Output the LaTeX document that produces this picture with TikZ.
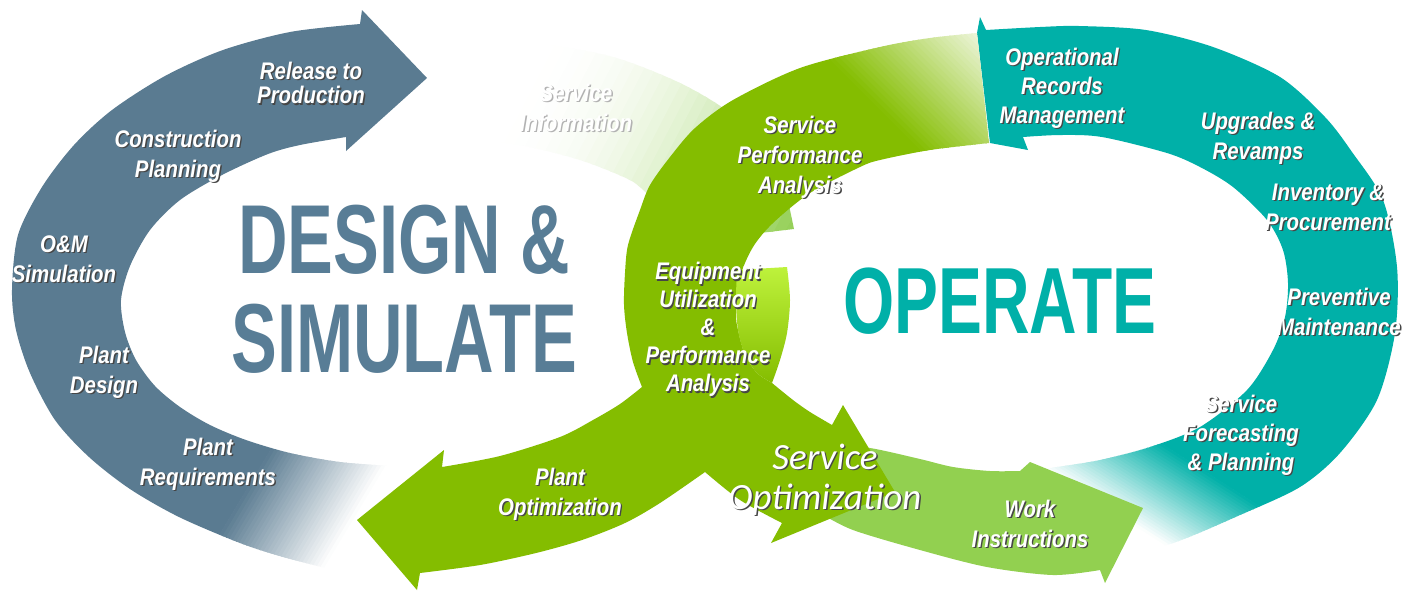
\documentclass[tikz,border=0pt]{standalone}
\usepackage{fontspec}
\newfontfamily\labfont{Liberation Sans}[FakeStretch=0.85]
\newfontfamily\titlefont{Liberation Sans}[FakeStretch=0.7]
\newfontfamily\sofont{Carlito}
\definecolor{slate}{RGB}{90,123,145}
\definecolor{slatetxt}{RGB}{88,125,150}
\definecolor{dkgreen}{RGB}{132,189,0}
\definecolor{ltgreen}{RGB}{146,208,80}
\definecolor{tealc}{RGB}{0,176,168}
\definecolor{limec}{RGB}{190,242,60}
\definecolor{paleg}{RGB}{150,208,90}
\definecolor{shad}{RGB}{70,70,70}
% white text with a drop shadow
\newcommand\shtext[2][shad]{\makebox[0pt][l]{\kern0.7pt\raisebox{-0.7pt}{\color{#1}\begin{tabular}{@{}c@{}}#2\end{tabular}}}{\color{white}\begin{tabular}{@{}c@{}}#2\end{tabular}}}
% solid part + banded fade: #1 colour, #2 #3 start point, #4 angle, #5 length, #6 power, #7 end percent
\newcommand\fadestrips[7]{%
  \begin{scope}[shift={(#2,#3)},rotate=#4]
    \fill[#1] (-1600,-1600) rectangle (0.5,1600);
    \foreach \i in {0,...,29}{%
      \pgfmathsetmacro\pc{#7+(100-#7)*(1-(\i+0.5)/30)^#6}%
      \fill[#1!\pc!white] ({\i*#5/30},-1600) rectangle ({(\i+1.3)*#5/30},1600);
    }
    \fill[#1!#7!white] ({#5},-1600) rectangle ({#5+1600},1600);
  \end{scope}}
\newcommand\bluepath{(330,569) -- plot[smooth] coordinates {(330,569) (283,557) (240,543) (179,517) (130,489) (89,457) (55,420) (30,373) (16,330) (12,290) (18,235) (42,187) (74,145) (112,110) (165,76) (223,50) (290,32) (360,24)} -- (362,10) -- (427,78) -- (346,151) -- plot[smooth] coordinates {(346,137) (300,145) (268,154) (222,175) (180,200) (150,230) (130,266) (121,300) (125,332) (136,360) (155,386) (180,407) (210,425) (246,440) (290,453) (340,462) (392,466)} -- cycle}
\newcommand\tealpath{(990,143) -- (977,33) -- (980,17) -- plot[smooth] coordinates {(986,30) (1040,27) (1079,26) (1146,30) (1213,47) (1280,77) (1325,117) (1352,152) (1383,200) (1397,267) (1395,333) (1377,400) (1340,453) (1300,487) (1240,515) (1173,543) (1110,558) (1060,564)} -- plot[smooth] coordinates {(1030,471) (1057,467) (1100,460) (1150,447) (1200,427) (1247,390) (1273,350) (1285,317) (1288,283) (1283,250) (1267,220) (1233,187) (1200,167) (1167,153) (1102,137) (1060,135) (1023,137)} -- (1028,150) -- cycle}
\newcommand\greenpath{(989,143) -- (977,33) -- plot[smooth] coordinates {(977,33) (930,38) (880,47) (800,68) (733,100) (695,128) (670,157) (650,185) (640,210) (628,245) (625,273) (624,305) (627,333) (633,362) (642,387)} -- plot[smooth] coordinates {(642,387) (620,404) (593,420) (560,437) (500,456) (442,467)} -- (444,450) -- (357,520) -- (417,590) -- plot[smooth] coordinates {(420,573) (480,565) (536,553) (582,540) (625,523) (660,503) (705,472)} -- plot[smooth] coordinates {(705,472) (740,500) (782,523)} -- (771,543) -- (895,492) -- (843,405) -- plot[smooth] coordinates {(832,425) (810,412) (793,400) (772,383)} -- plot[smooth] coordinates {(772,383) (757,373) (745,355) (738,330) (736,313) (740,277) (753,247) (773,223) (810,193) (860,167) (880,160) (930,150) (989,143)} -- cycle}
\newcommand\palepath{plot[smooth] coordinates {(470,40) (540,44) (613,57) (680,83) (730,113) (765,150) (783,180) (790,210)} -- (794,229) -- plot[smooth] coordinates {(760,233) (700,215) (653,197) (630,180) (580,160) (520,145) (460,138)} -- cycle}
\newcommand\lgpath{(800,470) -- plot[smooth] coordinates {(830,445) (870,448) (920,459) (953,467) (990,471) (1020,471)} -- (1030,462) -- (1143,508) -- (1105,583) -- plot[smooth] coordinates {(1100,570) (1053,575) (987,567) (920,550) (853,530) (820,513)} -- cycle}
\tikzset{
  lab/.style={inner sep=0pt, font=\labfont\bfseries\itshape\fontsize{12}{15}\selectfont},
  title/.style={anchor=base, inner sep=0pt, font=\titlefont\bfseries\fontsize{49}{50}\selectfont}
}
\begin{document}
\begin{tikzpicture}[x=0.5pt,y=-0.5pt]
\useasboundingbox (0,0) rectangle (1402,591);
\fill[white] (0,0) rectangle (1402,591);
% pale "Service Information" band
\begin{scope}
  \clip \palepath;
  \fadestrips{paleg}{792}{218}{152.6}{300}{2}{0}
\end{scope}
% slate design arrow
\begin{scope}
  \clip \bluepath;
  \fadestrips{slate}{240}{500}{-31}{107}{1}{0}
\end{scope}
% teal operate arrow
\begin{scope}
  \clip \tealpath;
  \fadestrips{tealc}{1219}{480}{-122.6}{84}{1}{0}
\end{scope}
% light green work-instructions arrow
\fill[ltgreen] \lgpath;
% dark green arrows
\begin{scope}
  \clip \greenpath;
  \fadestrips{dkgreen}{870}{100}{45}{127}{1}{12}
\end{scope}
% lime tail of service optimization arrow
\shade[top color=limec, bottom color=dkgreen] (737,270) -- plot[smooth] coordinates {(787,267) (790,300) (787,333) (780,360) (772,383)} -- plot[smooth] coordinates {(772,383) (757,373) (745,355) (738,330) (736,300) (737,270)} -- cycle;
% titles
\node[title, text=slatetxt] (design) at (404,273) {DESIGN \&};
\node[title, text=slatetxt] (simulate) at (404,372) {SIMULATE};
\node[title, text=tealc, font=\titlefont\bfseries\fontsize{47}{48}\selectfont] (operate) at (1000,333) {OPERATE};
% labels
\node[lab] (rel) at (311,87) {\fontsize{12}{11.5}\selectfont\shtext{Release to\\Production}};
\node[lab] (con) at (178,157) {\shtext{Construction\\Planning}};
\node[lab] (om) at (64,262) {\shtext{O\&M\\Simulation}};
\node[lab] (pd) at (104,373) {\shtext{Plant\\Design}};
\node[lab] (pr) at (208,465) {\shtext{Plant\\Requirements}};
\node[lab] (si) at (576,111) {\shtext[black!30]{Service\\Information}};
\node[lab] (po) at (560,495) {\shtext{Plant\\Optimization}};
\node[lab] (spa) at (800,158) {\shtext{Service\\Performance\\Analysis}};
\node[lab] (eq) at (708,331) {\fontsize{12}{14}\selectfont\shtext{Equipment\\Utilization\\\&\\Performance\\Analysis}};
\node[lab, font=\sofont\itshape\fontsize{18.5}{20}\selectfont] (so) at (825,482) {\shtext{Service\\Optimization}};
\node[lab] (wi) at (1030,527) {\shtext{Work\\Instructions}};
\node[lab] (orm) at (1062,89) {\fontsize{12}{14.5}\selectfont\shtext{Operational\\Records\\Management}};
\node[lab] (ur) at (1258,139) {\shtext{Upgrades \&\\Revamps}};
\node[lab] (ip) at (1328,210) {\shtext{Inventory \&\\Procurement}};
\node[lab] (pm) at (1339,315) {\shtext{Preventive\\Maintenance}};
\node[lab] (sfp) at (1241,436) {\fontsize{12}{14.5}\selectfont\shtext{Service\\Forecasting\\\& Planning}};
\end{tikzpicture}
\end{document}
